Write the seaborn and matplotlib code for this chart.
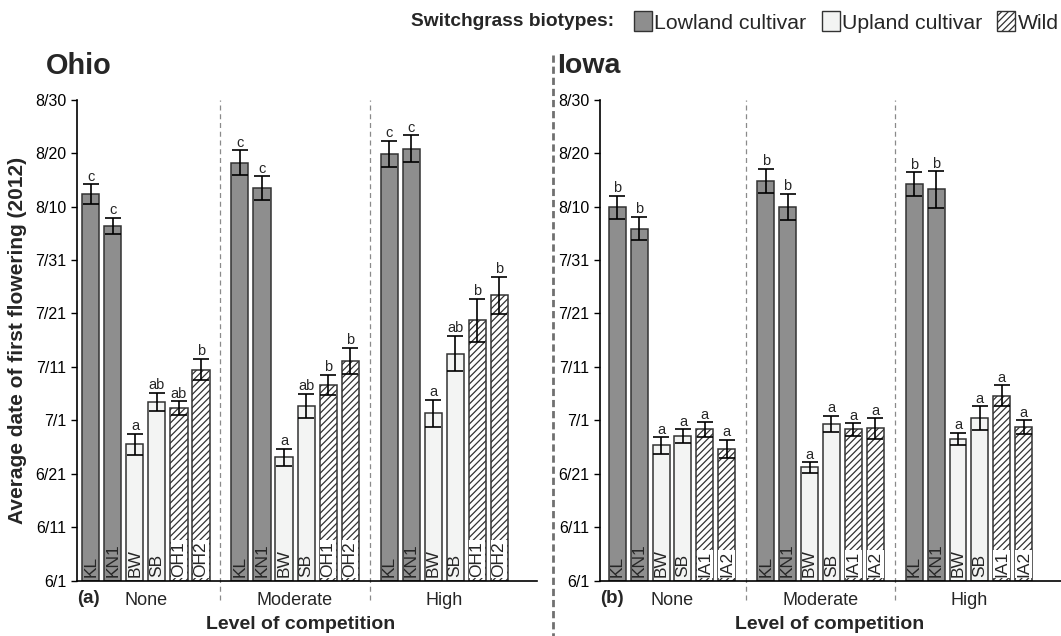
import numpy as np
import pandas as pd
import matplotlib
matplotlib.use("Agg")
import matplotlib.pyplot as plt
import seaborn as sns
from matplotlib.patches import Patch
from matplotlib.lines import Line2D

# ---------------- data (days after June 1, 2012) ----------------
levels = ["None", "Moderate", "High"]
ohio_cultivars = ["KL", "KN1", "BW", "SB", "OH1", "OH2"]
iowa_cultivars = ["KL", "KN1", "BW", "SB", "IA1", "IA2"]
position_biotype = ["Lowland", "Lowland", "Upland", "Upland", "Wild", "Wild"]

ohio_none = [72.3, 66.4, 25.5, 33.5, 32.3, 39.5]
ohio_none_err = [1.9, 1.5, 2.0, 1.7, 1.25, 2.0]
ohio_moderate = [78.2, 73.5, 23.1, 32.7, 36.6, 41.1]
ohio_moderate_err = [2.3, 2.2, 1.55, 2.25, 1.9, 2.5]
ohio_high = [79.9, 80.8, 31.3, 42.5, 48.7, 53.4]
ohio_high_err = [2.4, 2.55, 2.55, 3.3, 4.1, 3.45]
ohio_letters_none = ["c", "c", "a", "ab", "ab", "b"]
ohio_letters_moderate = ["c", "c", "a", "ab", "b", "b"]
ohio_letters_high = ["c", "c", "a", "ab", "b", "b"]

iowa_none = [69.9, 65.9, 25.3, 27.0, 28.3, 24.7]
iowa_none_err = [2.15, 2.2, 1.5, 1.3, 1.35, 1.65]
iowa_moderate = [74.8, 69.9, 21.2, 29.4, 28.3, 28.5]
iowa_moderate_err = [2.3, 2.45, 1.0, 1.5, 1.2, 1.9]
iowa_high = [74.2, 73.2, 26.5, 30.4, 34.6, 28.7]
iowa_high_err = [2.25, 3.4, 1.15, 2.2, 2.0, 1.3]
iowa_letters_none = ["b", "b", "a", "a", "a", "a"]
iowa_letters_moderate = ["b", "b", "a", "a", "a", "a"]
iowa_letters_high = ["b", "b", "a", "a", "a", "a"]

ytick_days = [0, 10, 20, 30, 40, 50, 60, 70, 80, 90]
ytick_labels = ["6/1", "6/11", "6/21", "7/1", "7/11", "7/21", "7/31", "8/10", "8/20", "8/30"]

legend_labels = ["Lowland cultivar", "Upland cultivar", "Wild"]

# ---------------- style ----------------
sns.set_style("ticks")
plt.rcParams["font.family"] = ["Liberation Sans", "DejaVu Sans"]
plt.rcParams["hatch.color"] = "#333333"
plt.rcParams["hatch.linewidth"] = 0.9

DARK = "#8e8e8e"
LIGHT = "#f3f4f3"
WILD = "#ffffff"
EDGE = "#333333"
biotype_color = {"Lowland": DARK, "Upland": LIGHT, "Wild": WILD}


def build_frame(cultivars, vals, errs, letters):
    rows = []
    for lev, v, e, l in zip(levels, vals, errs, letters):
        for i in range(6):
            rows.append(dict(level=lev, pos=f"p{i}", cultivar=cultivars[i],
                             biotype=position_biotype[i], value=v[i],
                             err=e[i], letter=l[i]))
    return pd.DataFrame(rows)


ohio_df = build_frame(ohio_cultivars,
                      [ohio_none, ohio_moderate, ohio_high],
                      [ohio_none_err, ohio_moderate_err, ohio_high_err],
                      [ohio_letters_none, ohio_letters_moderate, ohio_letters_high])
iowa_df = build_frame(iowa_cultivars,
                      [iowa_none, iowa_moderate, iowa_high],
                      [iowa_none_err, iowa_moderate_err, iowa_high_err],
                      [iowa_letters_none, iowa_letters_moderate, iowa_letters_high])

W, H = 1061, 636
fig = plt.figure(figsize=(W / 100, H / 100), dpi=100)

ax_top_px, ax_bot_px = 99.7, 580.7
ax1 = fig.add_axes([77 / W, 1 - ax_bot_px / H, (537 - 77) / W, (ax_bot_px - ax_top_px) / H])
ax2 = fig.add_axes([600 / W, 1 - ax_bot_px / H, (1061 - 600) / W, (ax_bot_px - ax_top_px) / H])

pos_order = [f"p{i}" for i in range(6)]
palette = {f"p{i}": biotype_color[position_biotype[i]] for i in range(6)}


def draw_panel(ax, df, xlim, tag):
    sns.barplot(data=df, x="level", y="value", hue="pos", order=levels,
                hue_order=pos_order, palette=palette, saturation=1,
                width=0.886, gap=0.227, edgecolor=EDGE, linewidth=1.1,
                errorbar=None, legend=False, ax=ax, zorder=2)
    bar_containers = list(ax.containers)
    for i, cont in enumerate(bar_containers):
        sub = df[df["pos"] == f"p{i}"].reset_index(drop=True)
        for bar, (_, row) in zip(cont.patches, sub.iterrows()):
            xc = bar.get_x() + bar.get_width() / 2
            h = bar.get_height()
            if row["biotype"] == "Wild":
                bar.set_hatch("/////")
                bar.set_edgecolor(EDGE)
            ax.errorbar(xc, h, yerr=row["err"], color="black", lw=1.2,
                        capsize=5.5, capthick=1.2, zorder=3)
            ax.text(xc, h + row["err"] + 0.1, row["letter"], ha="center",
                    va="bottom", fontsize=10.5, zorder=4)
            kw = {}
            if row["biotype"] == "Wild":
                kw["bbox"] = dict(facecolor="white", edgecolor="none", pad=0.6)
            ax.text(xc, 0.75, row["cultivar"], rotation=90, ha="center",
                    va="bottom", fontsize=12.5, zorder=4, **kw)
    # separators between competition levels
    for xs in (0.5, 1.5):
        ax.plot([xs, xs], [-3.7, 90], color="#8a8a8a", lw=0.9,
                linestyle=(0, (4, 3)), clip_on=False, zorder=1)
    ax.set_ylim(0, 90)
    ax.set_xlim(*xlim)
    ax.set_yticks(ytick_days)
    ax.set_yticklabels(ytick_labels, fontsize=11.5)
    ax.tick_params(axis="y", length=4, width=1, pad=3.5, colors="black")
    ax.tick_params(axis="x", length=0, pad=8, labelsize=13)
    ax.spines["top"].set_visible(False)
    ax.spines["right"].set_visible(False)
    ax.spines["left"].set_bounds(0, 90)
    for s in ("left", "bottom"):
        ax.spines[s].set_color("black")
        ax.spines[s].set_linewidth(1.2)
    ax.set_ylabel("")
    ax.set_xlabel("Level of competition", fontsize=14, fontweight="bold")
    ax.text(0.0, -0.036, tag, transform=ax.transAxes, ha="left", va="center",
            fontsize=13.5, fontweight="bold")


draw_panel(ax1, ohio_df, (-0.463, 2.624), "(a)")
draw_panel(ax2, iowa_df, (-0.485, 2.62), "(b)")

ax1.xaxis.set_label_coords(0.486, -0.073)
ax2.xaxis.set_label_coords(0.498, -0.073)

ax1.set_ylabel("Average date of first flowering (2012)", fontsize=15,
               fontweight="bold")
ax1.yaxis.set_label_coords(-0.108, 0.5)

# panel titles
fig.text(46 / W, 1 - 66 / H, "Ohio", ha="left", va="center", fontsize=20.8,
         fontweight="bold")
fig.text(557 / W, 1 - 66 / H, "Iowa", ha="left", va="center", fontsize=20.5,
         fontweight="bold")

# big dashed divider
fig.add_artist(Line2D([553 / W, 553 / W], [1 - 55 / H, 0], transform=fig.transFigure,
                      color="#707070", lw=2.0, linestyle=(0, (2.6, 1.4))))

# legend row
fig.text(614 / W, 1 - 22 / H, "Switchgrass biotypes:", ha="right", va="center",
         fontsize=13.8, fontweight="bold")
handles = [Patch(facecolor=DARK, edgecolor=EDGE, lw=1.0),
           Patch(facecolor=LIGHT, edgecolor=EDGE, lw=1.0),
           Patch(facecolor=WILD, edgecolor=EDGE, lw=1.0, hatch="/////")]
fig.legend(handles, legend_labels, loc="center left",
           bbox_to_anchor=(634 / W, 1 - 22 / H), ncol=3, frameon=False,
           fontsize=15.3, handlelength=0.85, handleheight=1.04,
           handletextpad=0.1, columnspacing=0.72, borderpad=0,
           borderaxespad=0)

fig.savefig("out.png", dpi=100)
